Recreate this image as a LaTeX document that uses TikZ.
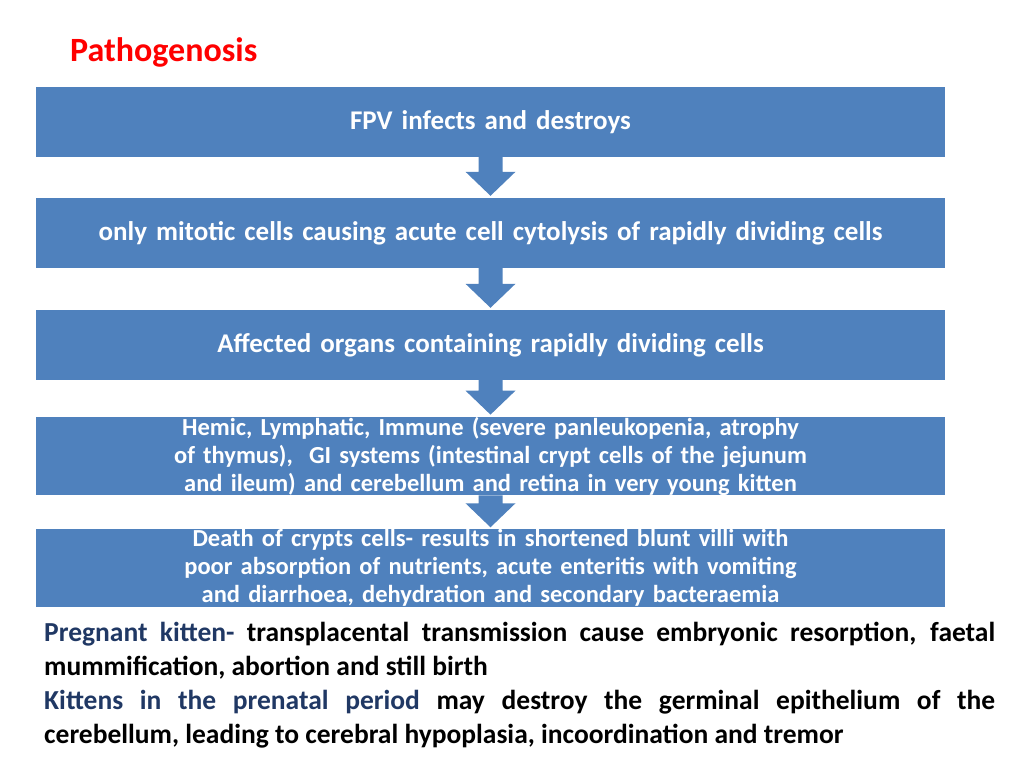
\documentclass[tikz,border=0pt]{standalone}
\usepackage{fontspec}
\setmainfont{Carlito}
\usetikzlibrary{calc}
\definecolor{boxblue}{HTML}{4F81BD}
\definecolor{headblue}{HTML}{203864}
\begin{document}
\hyphenpenalty=10000\relax
\exhyphenpenalty=10000\relax
\begin{tikzpicture}[x=1pt,y=-1pt,
  flow/.style={fill=boxblue,draw=none,minimum width=909pt,minimum height=70pt,text width=900pt,align=center,text=white,font=\bfseries\fontsize{27}{30}\selectfont,inner sep=0pt},
  flowsmall/.style={flow,font=\bfseries\fontsize{24.5}{28}\selectfont}]
\useasboundingbox (0,0) rectangle (1024,768);
\node[text=red,font=\bfseries\fontsize{34}{38}\selectfont,anchor=west,inner sep=0pt] (title) at (70,52) {Pathogenosis};
\node[flow] (b1) at (490.5,122) {FPV infects and destroys};
\node[flow] (b2) at (490.5,233) {only mitotic cells causing acute cell cytolysis of rapidly dividing cells};
\node[flow] (b3) at (490.5,345) {Affected organs containing rapidly dividing cells};
\node[flowsmall] (b4) at (490.5,456) {Hemic, Lymphatic, Immune (severe panleukopenia, atrophy of thymus),~ GI systems (intestinal crypt cells of the jejunum and ileum) and cerebellum and retina in very young kitten};
\node[flowsmall] (b5) at (490.5,568) {Death of crypts cells- results in shortened blunt villi with poor absorption of nutrients, acute enteritis with vomiting and diarrhoea, dehydration and secondary bacteraemia};
\foreach \a/\b in {b1/b2,b2/b3,b3/b4,b4/b5}{
  \fill[boxblue] ($(\a.south)+(-12,0)$) -- ($(\b.north)+(-12,-26)$) -- ($(\b.north)+(-25,-26)$) -- ($(\b.north)+(0,-2)$) -- ($(\b.north)+(25,-26)$) -- ($(\b.north)+(12,-26)$) -- ($(\a.south)+(12,0)$) -- cycle;
}
\node[anchor=north west,text width=951pt,align=justify,inner sep=0pt,font=\bfseries\fontsize{27.5}{34}\selectfont] (txt) at (44,622) {%
{\color{headblue}Pregnant kitten-} transplacental transmission cause embryonic resorption, faetal mummification, abortion and still birth\par
{\color{headblue}Kittens in the prenatal period} may destroy the germinal epithelium of the cerebellum, leading to cerebral hypoplasia, incoordination and tremor};
\end{tikzpicture}
\end{document}
